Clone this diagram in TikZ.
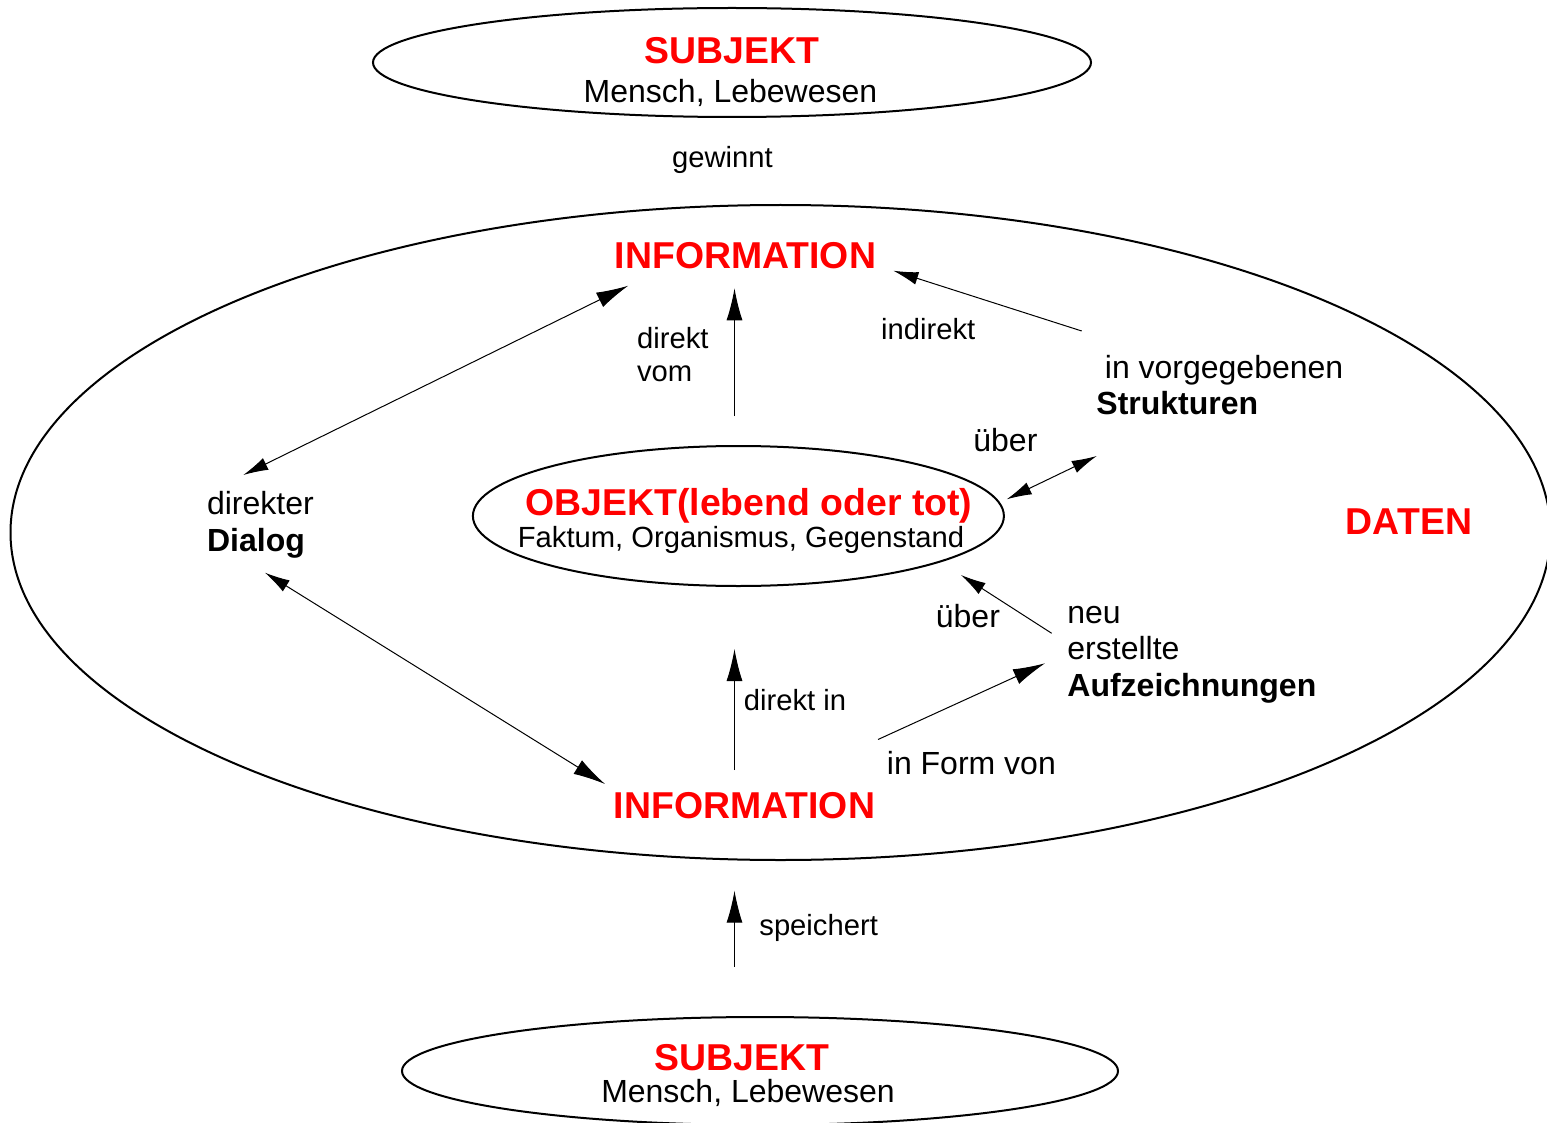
\documentclass[tikz,border=0pt]{standalone}
\usepackage{fontspec}
\setmainfont{Liberation Sans}
\usetikzlibrary{shapes.geometric,arrows.meta}
\definecolor{infored}{RGB}{255,0,0}
\begin{document}
\begin{tikzpicture}[x=0.5pt,y=-0.5pt,
  big/.style={font=\fontsize{18.7}{22}\selectfont\bfseries, text=infored, inner sep=0pt},
  med/.style={font=\fontsize{16}{18}\selectfont, inner sep=0pt},
  sml/.style={font=\fontsize{14.6}{17}\selectfont, inner sep=0pt},
  oval/.style={ellipse, draw, line width=1pt, inner sep=0pt},
  conn/.style={line width=0.5pt},
  bh/.style={-{Latex[length=16pt,width=8pt]}},
  sh/.style={-{Latex[length=12.5pt,width=6.5pt]}},
  ssh/.style={{Latex[length=12.5pt,width=6.5pt]}-{Latex[length=12.5pt,width=6.5pt]}},
  sbh/.style={{Latex[length=12.5pt,width=6.5pt]}-{Latex[length=16pt,width=8pt]}}
]
\useasboundingbox (0,0) rectangle (1547,1123);

% ellipses
\node[oval, minimum width=359pt, minimum height=54.5pt] (subjTop) at (732,62.5) {};
\node[oval, minimum width=770pt, minimum height=327.5pt] (daten) at (780.5,532.5) {};
\node[oval, minimum width=265.5pt, minimum height=70pt] (obj) at (738.4,516) {};
\node[oval, minimum width=358pt, minimum height=54pt] (subjBot) at (760,1071) {};

% texts
\node[big, anchor=base] (subjTopT) at (732,63.5) {SUBJEKT};
\node[med, anchor=base] (subjTopS) at (730.5,102.5) {Mensch, Lebewesen};
\node[sml, anchor=base] (gew) at (722.5,167.5) {gewinnt};
\node[big, anchor=base] (infoTop) at (745.5,268.5) {INFORMATION};
\node[sml, anchor=base west] (dv1) at (636.7,349) {direkt};
\node[sml, anchor=base west] (dv2) at (636.7,381.5) {vom};
\node[sml, anchor=base west] (ind) at (880.7,339) {indirekt};
\node[med, anchor=base west] (ivg) at (1104.5,378.5) {in vorgegebenen};
\node[med, anchor=base west] (str) at (1096,414) {\textbf{Strukturen}};
\node[med, anchor=base west] (ueb1) at (973,451) {über};
\node[med, anchor=base west] (dir1) at (206.7,514) {direkter};
\node[med, anchor=base west] (dir2) at (206.7,551) {\textbf{Dialog}};
\node[big, anchor=base] (objT) at (749,515.5) {OBJEKT(lebend oder tot)};
\node[sml, anchor=base] (objS) at (741,547) {Faktum, Organismus, Gegenstand};
\node[big, anchor=base] (dat) at (1409,534.5) {DATEN};
\node[med, anchor=base west] (ueb2) at (935.5,627) {über};
\node[med, anchor=base west] (neu1) at (1067,623.5) {neu};
\node[med, anchor=base west] (neu2) at (1067,659) {erstellte};
\node[med, anchor=base west] (neu3) at (1067,696) {\textbf{Aufzeichnungen}};
\node[sml, anchor=base west] (din) at (743.5,710) {direkt in};
\node[med, anchor=base west] (ifv) at (886.5,774) {in Form von};
\node[big, anchor=base] (infoBot) at (744.5,818.5) {INFORMATION};
\node[sml, anchor=base west] (spe) at (759,935.5) {speichert};
\node[big, anchor=base] (subjBotT) at (742,1070.5) {SUBJEKT};
\node[med, anchor=base] (subjBotS) at (748,1102.5) {Mensch, Lebewesen};

% connector ends
\coordinate (dialogTop) at (243.3,475);
\coordinate (infoTopL) at (628.3,285.7);
\coordinate (objTopC) at (734.5,416);
\coordinate (infoTopC) at (734.5,288.3);
\coordinate (strucTop) at (1081.7,331);
\coordinate (infoTopR) at (893.3,270.7);
\coordinate (objR) at (1006.7,499.3);
\coordinate (strucBot) at (1096.7,456);
\coordinate (aufzTop) at (1051.7,633.3);
\coordinate (objBR) at (961,575);
\coordinate (formEnd) at (878,739.5);
\coordinate (aufzL) at (1045,663.3);
\coordinate (infoBotC) at (734.5,770);
\coordinate (objBotC) at (734.5,649);
\coordinate (dialogBot) at (265,572.7);
\coordinate (infoBotL) at (605,784);
\coordinate (subjBotC) at (734.5,966.7);
\coordinate (datenBotC) at (734.5,890.7);

% connectors
\draw[conn, sbh] (dialogTop) -- (infoTopL);
\draw[conn, bh] (objTopC) -- (infoTopC);
\draw[conn, sh] (strucTop) -- (infoTopR);
\draw[conn, ssh] (objR) -- (strucBot);
\draw[conn, sh] (aufzTop) -- (objBR);
\draw[conn, bh] (formEnd) -- (aufzL);
\draw[conn, bh] (infoBotC) -- (objBotC);
\draw[conn, sbh] (dialogBot) -- (infoBotL);
\draw[conn, bh] (subjBotC) -- (datenBotC);
\end{tikzpicture}
\end{document}
